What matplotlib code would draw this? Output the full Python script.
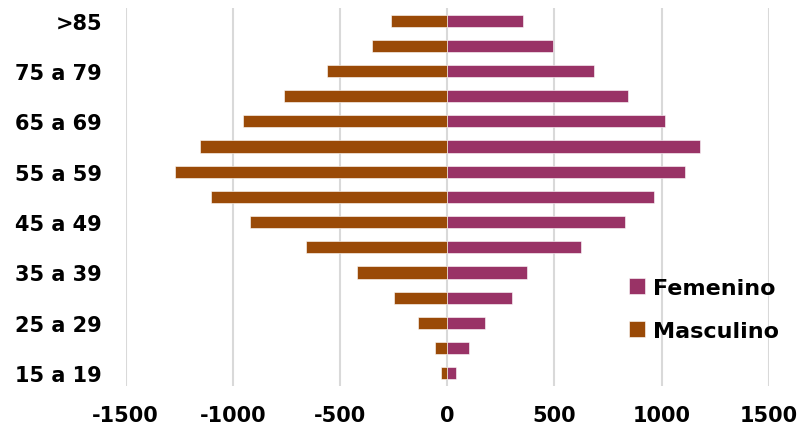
import numpy as np
import matplotlib.pyplot as plt

# age groups, bottom to top
grupos = ["15 a 19", "20 a 24", "25 a 29", "30 a 34", "35 a 39", "40 a 44",
          "45 a 49", "50 a 54", "55 a 59", "60 a 64", "65 a 69", "70 a 74",
          "75 a 79", "80 a 84", ">85"]
masculino = [28, 59, 134, 247, 419, 660, 921, 1103, 1268, 1151, 952, 761, 562, 353, 260]
femenino = [43, 103, 176, 302, 373, 625, 829, 966, 1111, 1181, 1014, 845, 684, 495, 355]
xticks = [-1500, -1000, -500, 0, 500, 1000, 1500]

col_fem = "#993366"
col_masc = "#9A4A07"

plt.rcParams["font.family"] = ["DejaVu Sans"]

fig = plt.figure(figsize=(8, 4.27), dpi=100)
ax = fig.add_axes([0.157, 0.094, 0.804, 0.885])

y = np.arange(len(grupos))
ax.barh(y, femenino, height=0.48, color=col_fem, edgecolor="white",
        linewidth=0.4, label="Femenino", zorder=3)
ax.barh(y, -np.array(masculino), height=0.48, color=col_masc, edgecolor="white",
        linewidth=0.4, label="Masculino", zorder=3)

ax.set_xlim(-1500, 1500)
ax.set_ylim(-0.5, len(grupos) - 0.5)
ax.set_xticks(xticks)
ax.set_xticklabels([str(v) for v in xticks], fontsize=15, fontweight="bold")
ax.set_yticks(y[::2])
ax.set_yticklabels(grupos[::2], fontsize=15, fontweight="bold")
ax.tick_params(axis="both", length=0)
ax.tick_params(axis="y", pad=17)
ax.tick_params(axis="x", pad=14)
ax.grid(axis="x", color="#d9d9d9", linewidth=1.5, zorder=0)
for s in ax.spines.values():
    s.set_visible(False)

ax.legend(loc="lower right", bbox_to_anchor=(1.047, 0.066), frameon=False,
          prop={"size": 16, "weight": "bold"}, handlelength=0.75,
          handleheight=0.75, handletextpad=0.35, labelspacing=1.05)

fig.savefig("out.png", dpi=100)
